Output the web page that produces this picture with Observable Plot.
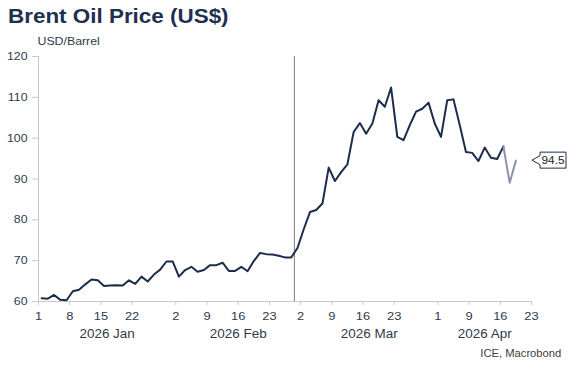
<!DOCTYPE html>
<html><head><meta charset="utf-8">
<script src="https://cdn.jsdelivr.net/npm/d3@7"></script>
<script src="https://cdn.jsdelivr.net/npm/@observablehq/plot@0.6"></script>
<style>
body{margin:0;background:#fff;font-family:"Liberation Sans",Arial,sans-serif;}
#wrap{position:relative;width:580px;height:368px;overflow:hidden;background:#fff}
#title{position:absolute;left:8px;top:7px;font-size:19.5px;font-weight:bold;color:#1e3050;line-height:1;white-space:nowrap;transform:scaleX(1.15);transform-origin:0 0}
#chart{position:absolute;left:0;top:30px}
#source{position:absolute;right:19px;top:348.5px;font-size:10px;line-height:1;color:#404040;white-space:nowrap;transform:scaleX(1.12);transform-origin:100% 0}
</style></head>
<body><div id="wrap"><div id="title">Brent Oil Price (US$)</div><div id="chart"></div><div id="source">ICE, Macrobond</div></div>
<script>
// Daily Brent closes (USD/barrel), consecutive trading days from firstDay
const prices = [60.8, 60.7, 61.6, 60.4, 60.3, 62.5, 62.9, 64.2, 65.4, 65.2,
  63.8, 63.9, 64.0, 63.9, 65.2, 64.3, 66.1, 64.9, 66.6, 67.8,
  69.8, 69.8, 66.1, 67.7, 68.5, 67.3, 67.7, 68.9, 68.9, 69.5,
  67.5, 67.5, 68.5, 67.4, 69.9, 71.9, 71.6, 71.5, 71.2, 70.8,
  70.8, 73.1, 77.7, 81.9, 82.4, 84.0, 92.8, 89.5, 91.7, 93.6,
  101.5, 103.7, 101.1, 103.6, 109.3, 107.7, 112.4, 100.3, 99.5, 103.2,
  106.5, 107.2, 108.7, 103.6, 100.3, 109.3, 109.5, 103.2, 96.6, 96.4,
  94.4, 97.7, 95.2, 94.9, 98.0, 89.1, 94.5];
const provisionalPoints = 2;
const firstDay = "2026-01-01";
const holidays = ["2026-04-03"];
const tickDates = ["2026-01-01","2026-01-08","2026-01-15","2026-01-22",
  "2026-02-02","2026-02-09","2026-02-16","2026-02-23",
  "2026-03-02","2026-03-09","2026-03-16","2026-03-23",
  "2026-04-01","2026-04-09","2026-04-16","2026-04-23"];
const tickLabels = ["1","8","15","22","2","9","16","23","2","9","16","23","1","9","16","23"];
const monthLabels = ["2026 Jan","2026 Feb","2026 Mar","2026 Apr"];
const monthEdges = ["2026-01-01","2026-02-01","2026-03-01","2026-04-01","2026-04-23"];
const yTicks = [60, 70, 80, 90, 100, 110, 120];
const yDomain = [60, 120];
const eventDate = "2026-02-27";
const unitLabel = "USD/Barrel";

function tradingIndex(s) {
  const start = new Date(firstDay + "T00:00:00Z"), end = new Date(s + "T00:00:00Z");
  let n = 0;
  for (let d = new Date(start); d < end; d.setUTCDate(d.getUTCDate() + 1)) {
    const wd = d.getUTCDay();
    const iso = d.toISOString().slice(0, 10);
    if (wd !== 0 && wd !== 6 && !holidays.includes(iso)) n++;
  }
  return n;
}

const rows = prices.map((v, i) => ({x: i + 0.5, v, i}));
const nSolid = prices.length - provisionalPoints;
const solid = rows.slice(0, nSolid);
const prov = rows.slice(nSolid - 1);
const tickIdx = tickDates.map(tradingIndex);
const tickMap = new Map(tickIdx.map((t, i) => [t, tickLabels[i]]));
const xMax = tickIdx[tickIdx.length - 1];
const months = monthLabels.map((label, i) => ({label, c: (tradingIndex(monthEdges[i]) + tradingIndex(monthEdges[i + 1])) / 2}));
const lastValue = prices[prices.length - 1];

const navy = "#1c2d4c", axisGrey = "#c8c8c8", labelColor = "#2f3a4c";

const callout = (index, scales) => {
  const px = scales.x(xMax) + 1, py = scales.y(lastValue);
  const g = d3.create("svg:g");
  g.append("path")
    .attr("d", `M${px},${py}l8,-4.5v-3.5h26v16h-26v-3.5z`)
    .attr("fill", "white").attr("stroke", navy).attr("stroke-width", 1);
  g.append("text")
    .attr("x", px + 21).attr("y", py).attr("dy", "0.35em")
    .attr("text-anchor", "middle").attr("font-size", 10.5).attr("fill", "#222")
    .text(lastValue.toFixed(1));
  return g.node();
};

const chart = Plot.plot({
  width: 580, height: 318,
  marginLeft: 38, marginRight: 49, marginTop: 26, marginBottom: 47,
  style: {fontFamily: "'Liberation Sans', Arial, sans-serif", fontSize: "11px", color: labelColor, background: "white"},
  x: {domain: [0, xMax], axis: null},
  y: {domain: yDomain, axis: null},
  marks: [
    Plot.ruleX([tradingIndex(eventDate)], {stroke: "#7a7a7a", strokeWidth: 1}),
    Plot.ruleX([0], {stroke: axisGrey}),
    Plot.ruleY([yDomain[0]], {stroke: axisGrey}),
    Plot.axisY({ticks: yTicks, tickSize: 6, tickPadding: 5, stroke: axisGrey, fill: labelColor, fontSize: 11, label: null}),
    Plot.axisX({ticks: tickIdx, tickFormat: d => tickMap.get(d), tickSize: 4, tickPadding: 6.5, stroke: axisGrey, fill: labelColor, fontSize: 11.5, label: null}),
    Plot.text(months, {x: "c", text: "label", frameAnchor: "bottom", lineAnchor: "top", dy: 28, fontSize: 12, fill: labelColor}),
    Plot.text([unitLabel], {text: d => d, frameAnchor: "top-left", textAnchor: "start", lineAnchor: "top", dy: -19, dx: -1, fontSize: 11, fill: labelColor}),
    Plot.line(solid, {x: "x", y: "v", stroke: navy, strokeWidth: 2}),
    Plot.line(prov, {x: "x", y: "v", stroke: "#8a93a6", strokeWidth: 2}),
    callout
  ]
});
document.getElementById("chart").appendChild(chart);
// mimic the reference's slightly wide lettering
chart.querySelectorAll("text").forEach(t => {
  const w = t.getComputedTextLength();
  if (w > 0) {
    t.setAttribute("textLength", (w * 1.12).toFixed(2));
    t.setAttribute("lengthAdjust", "spacingAndGlyphs");
  }
});
</script>
</body></html>
